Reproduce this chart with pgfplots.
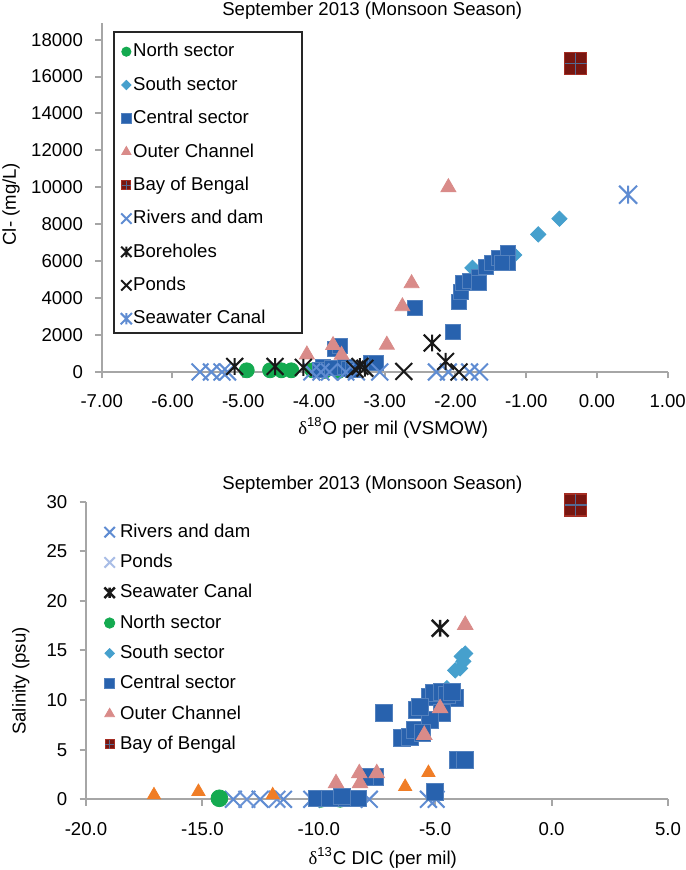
\documentclass[border=0pt]{standalone}
\usepackage{fontspec}
\setmainfont{Liberation Sans}
\newfontfamily\seriffont{Liberation Serif}
\usepackage{pgfplots}
\pgfplotsset{compat=1.18}

\definecolor{axisgray}{RGB}{166,166,166}
\definecolor{northc}{RGB}{20,170,80}
\definecolor{southc}{RGB}{70,160,205}
\definecolor{centralc}{RGB}{40,98,174}
\definecolor{outerc}{RGB}{217,139,137}
\definecolor{bayfill}{RGB}{120,22,16}
\definecolor{bayedge}{RGB}{165,45,35}
\definecolor{bayplus}{RGB}{85,105,145}
\definecolor{riverc}{RGB}{95,140,210}
\definecolor{pondlc}{RGB}{169,189,230}
\definecolor{blackc}{RGB}{25,25,25}
\definecolor{orangec}{RGB}{240,125,38}

\pgfdeclareplotmark{xc}{%
 \pgfpathmoveto{\pgfqpoint{-\pgfplotmarksize}{-\pgfplotmarksize}}%
 \pgfpathlineto{\pgfqpoint{\pgfplotmarksize}{\pgfplotmarksize}}%
 \pgfpathmoveto{\pgfqpoint{-\pgfplotmarksize}{\pgfplotmarksize}}%
 \pgfpathlineto{\pgfqpoint{\pgfplotmarksize}{-\pgfplotmarksize}}%
 \pgfusepathqstroke}
\pgfdeclareplotmark{xs}{%
 \pgfpathmoveto{\pgfqpoint{-\pgfplotmarksize}{-\pgfplotmarksize}}%
 \pgfpathlineto{\pgfqpoint{\pgfplotmarksize}{\pgfplotmarksize}}%
 \pgfpathmoveto{\pgfqpoint{-\pgfplotmarksize}{\pgfplotmarksize}}%
 \pgfpathlineto{\pgfqpoint{\pgfplotmarksize}{-\pgfplotmarksize}}%
 \pgfpathmoveto{\pgfqpoint{0pt}{-\pgfplotmarksize}}%
 \pgfpathlineto{\pgfqpoint{0pt}{\pgfplotmarksize}}%
 \pgfusepathqstroke}
\pgfdeclareplotmark{bay}{%
 \pgfpathrectangle{\pgfqpoint{-\pgfplotmarksize}{-\pgfplotmarksize}}{\pgfqpoint{2\pgfplotmarksize}{2\pgfplotmarksize}}%
 \pgfusepathqfillstroke
 \pgfsetstrokecolor{bayplus}%
 \pgfsetlinewidth{0.6pt}%
 \pgfpathmoveto{\pgfqpoint{-\pgfplotmarksize}{0pt}}%
 \pgfpathlineto{\pgfqpoint{\pgfplotmarksize}{0pt}}%
 \pgfpathmoveto{\pgfqpoint{0pt}{-\pgfplotmarksize}}%
 \pgfpathlineto{\pgfqpoint{0pt}{\pgfplotmarksize}}%
 \pgfusepathqstroke}

\newcommand{\fs}{\fontsize{9.3}{11}\selectfont}

\pgfplotsset{excel/.style={
  scale only axis, clip=false,
  axis lines*=left,
  axis line style={draw=axisgray, line width=1pt},
  tick style={draw=axisgray, line width=1pt},
  tick align=outside, major tick length=3.2pt,
  scaled x ticks=false, scaled y ticks=false,
  every axis title shift=0pt,
  every tick label/.append style={font=\fs, text=black},
  xticklabel style={anchor=north, inner sep=0pt, yshift=-8pt},
  yticklabel style={anchor=east, inner sep=0pt, xshift=-6pt},
  label style={font=\fs},
  title style={font=\fs},
  legend cell align=left,
  legend style={font=\fs, draw=none, fill=none, inner sep=0pt, anchor=north west,
    nodes={inner xsep=0.6pt}},
  legend image code/.code={\draw[##1, every mark/.append style={scale=0.62}] plot coordinates {(0pt,0pt)};},
}}

\begin{document}
\begin{tikzpicture}[x=1pt,y=1pt]
\path[use as bounding box] (0,0) rectangle (342.5,435);

% ---------------- top panel ----------------
\begin{axis}[excel,
  at={(50.85pt,249pt)}, anchor=south west,
  width=283pt, height=174.5pt,
  xmin=-7, xmax=1, ymin=0, ymax=18900,
  xtick={-7,-6,...,1},
  xticklabels={-7.00,-6.00,-5.00,-4.00,-3.00,-2.00,-1.00,0.00,1.00},
  ytick={0,2000,...,18000},
  yticklabels={0,2000,4000,6000,8000,10000,12000,14000,16000,18000},
  title={September 2013 (Monsoon Season)},
  title style={at={(axis description cs:0.478,1.034)}, anchor=center},
  xlabel={{\seriffont δ}\textsuperscript{18}O per mil (VSMOW)},
  xlabel style={at={(axis description cs:0.515,-0.16)}, anchor=center},
  ylabel={Cl- (mg/L)},
  ylabel style={at={(axis description cs:-0.16,0.481)}, anchor=center},
  legend style={at={(axis description cs:0.033,0.954)}, row sep=4.45pt},
]
\addplot[only marks, mark=*, mark size=3.75pt, mark options={fill=northc, draw=northc}]
 coordinates {(-4.95,90) (-4.62,90) (-4.46,90) (-4.32,90) (-4.02,90) (-3.85,60) (-3.65,60)};
\addlegendentry{North sector}
\addplot[only marks, mark=square*, mark size=2.7pt, mark options={rotate=45, fill=southc, draw=southc}]
 coordinates {(-0.83,7450) (-0.53,8300) (-1.76,5640) (-1.17,6340) (-3.5,60)};
\addlegendentry{South sector}
\addplot[only marks, mark=square*, mark size=3.75pt, mark options={fill=centralc, draw=centralc!80!white}]
 coordinates {(-2.58,3450) (-2.04,2150) (-1.95,3800) (-1.92,4350) (-1.9,4800) (-1.8,4950)
 (-1.67,5170) (-1.67,4820) (-1.57,5710) (-1.49,5890) (-1.39,6160) (-1.26,6430) (-1.26,5890) (-1.35,5900)
 (-3.7,1250) (-3.63,1390) (-3.87,250) (-3.92,100) (-3.75,200) (-3.56,250) (-3.5,150) (-3.2,470) (-3.13,470) (-3.45,100)};
\addlegendentry{Central sector}
\addplot[only marks, mark=triangle*, mark size=4.3pt, mark options={fill=outerc, draw=outerc}]
 coordinates {(-2.1,10000) (-2.62,4800) (-2.75,3550) (-2.97,1470) (-3.73,1450) (-4.1,940) (-3.61,920)};
\addlegendentry{Outer Channel}
\addplot[only marks, mark=bay, mark size=5.5pt, mark options={fill=bayfill, draw=bayedge, line width=0.6pt},
  legend image post style={mark size=3.6pt}]
 coordinates {(-0.3,16700)};
\addlegendentry{Bay of Bengal}
\addplot[only marks, mark=xc, mark size=4.2pt, mark options={draw=riverc, line width=1pt}]
 coordinates {(-5.61,0) (-5.45,0) (-5.3,0) (-5.22,0) (-4.03,0) (-3.9,0) (-3.78,0) (-3.55,0) (-3.4,0)
 (-3.07,0) (-2.27,0) (-2.1,0) (-1.8,0) (-1.66,0)};
\addlegendentry{Rivers and dam}
\addplot[only marks, mark=xs, mark size=4.2pt, mark options={draw=blackc, line width=1pt}]
 coordinates {(-5.12,300) (-4.55,300) (-4.15,250) (-3.35,300) (-3.28,200) (-2.33,1570) (-2.14,575)};
\addlegendentry{Boreholes}
\addplot[only marks, mark=xc, mark size=4.2pt, mark options={draw=blackc, line width=1pt}]
 coordinates {(-2.73,30) (-1.95,0) (-3.42,150)};
\addlegendentry{Ponds}
\addplot[only marks, mark=xs, mark size=4.5pt, mark options={draw=riverc, line width=1pt}]
 coordinates {(0.44,9600)};
\addlegendentry{Seawater Canal}
\draw[black!85, line width=1pt] (axis description cs:0.0217,0.974) rectangle (axis description cs:0.354,0.112);
\end{axis}

% ---------------- bottom panel ----------------
\begin{axis}[excel,
  at={(43pt,35.35pt)}, anchor=south west,
  width=291pt, height=148.8pt,
  xmin=-20, xmax=5, ymin=0, ymax=30,
  xtick={-20,-15,...,5},
  xticklabels={-20.0,-15.0,-10.0,-5.0,0.0,5.0},
  ytick={0,5,...,30},
  yticklabels={0,5,10,15,20,25,30},
  title={September 2013 (Monsoon Season)},
  title style={at={(axis description cs:0.492,1.056)}, anchor=center},
  xlabel={{\seriffont δ}\textsuperscript{13}C DIC (per mil)},
  xlabel style={at={(axis description cs:0.51,-0.197)}, anchor=center},
  ylabel={Salinity (psu)},
  ylabel style={at={(axis description cs:-0.112,0.3975)}, anchor=center},
  legend style={at={(axis description cs:0.031,0.94)}, row sep=2.9pt,
    /tikz/every odd column/.append style={column sep=2pt}},
]
\addplot[only marks, mark=xc, mark size=4.2pt, mark options={draw=riverc, line width=1pt}]
 coordinates {(-13.67,0) (-12.52,0) (-11.52,0) (-10.3,0) (-7.83,0) (-5.29,0) (-4.96,0)};
\addlegendentry{Rivers and dam}
\addplot[only marks, mark=xc, mark size=4.2pt, mark options={draw=riverc!85!pondlc, line width=1pt}, legend image post style={mark options={draw=pondlc, line width=1pt}}]
 coordinates {(-13.09,0) (-11.8,0)};
\addlegendentry{Ponds}
\addplot[only marks, mark=xs, mark size=4.2pt, mark options={draw=blackc, line width=1.2pt}]
 coordinates {(-4.79,17.24)};
\addlegendentry{Seawater Canal}
\addplot[only marks, mark=*, mark size=4.2pt, mark options={fill=northc, draw=northc}]
 coordinates {(-14.27,0.1) (-9.08,0.05) (-9.9,0.05)};
\addlegendentry{North sector}
\addplot[only marks, mark=square*, mark size=2.7pt, mark options={rotate=45, fill=southc, draw=southc}]
 coordinates {(-3.71,14.7) (-3.79,13.9) (-3.93,13.2) (-4.14,13.0) (-3.86,14.4) (-4.5,11.2)};
\addlegendentry{South sector}
\addplot[only marks, mark=square*, mark size=4.2pt, mark options={fill=centralc, draw=centralc!80!white}]
 coordinates {(-7.22,8.67) (-6.43,6.15) (-6.1,6.3) (-5.79,9.0) (-5.86,7.0) (-5.22,10.34) (-5.07,10.7)
 (-4.71,10.85) (-4.14,10.2) (-4.71,8.67) (-5.22,8.0) (-5.65,9.33) (-4.5,10.5) (-4.3,10.8) (-5.55,6.7)
 (-4.04,3.96) (-3.71,3.96) (-5.0,0.77) (-7.58,2.28) (-8.0,2.28)
 (-10.09,0.1) (-9.51,0.1) (-8.8,0.1) (-8.3,0.1) (-9.0,0.3)};
\addlegendentry{Central sector}
\addplot[only marks, mark=triangle*, mark size=4.5pt, mark options={fill=outerc, draw=outerc}]
 coordinates {(-3.71,17.57) (-4.79,9.17) (-5.47,6.48) (-7.51,2.62) (-8.26,2.62) (-8.23,1.61) (-9.26,1.61)};
\addlegendentry{Outer Channel}
\addplot[only marks, mark=bay, mark size=5.5pt, mark options={fill=bayfill, draw=bayedge, line width=0.6pt},
  legend image post style={mark size=3.6pt}]
 coordinates {(1.04,29.67)};
\addlegendentry{Bay of Bengal}
\addplot[only marks, forget plot, mark=triangle*, mark size=3.8pt, mark options={fill=orangec, draw=orangec}]
 coordinates {(-17.08,0.43) (-15.17,0.77) (-11.98,0.43) (-6.29,1.27) (-5.29,2.68)};
\end{axis}
\end{tikzpicture}
\end{document}
